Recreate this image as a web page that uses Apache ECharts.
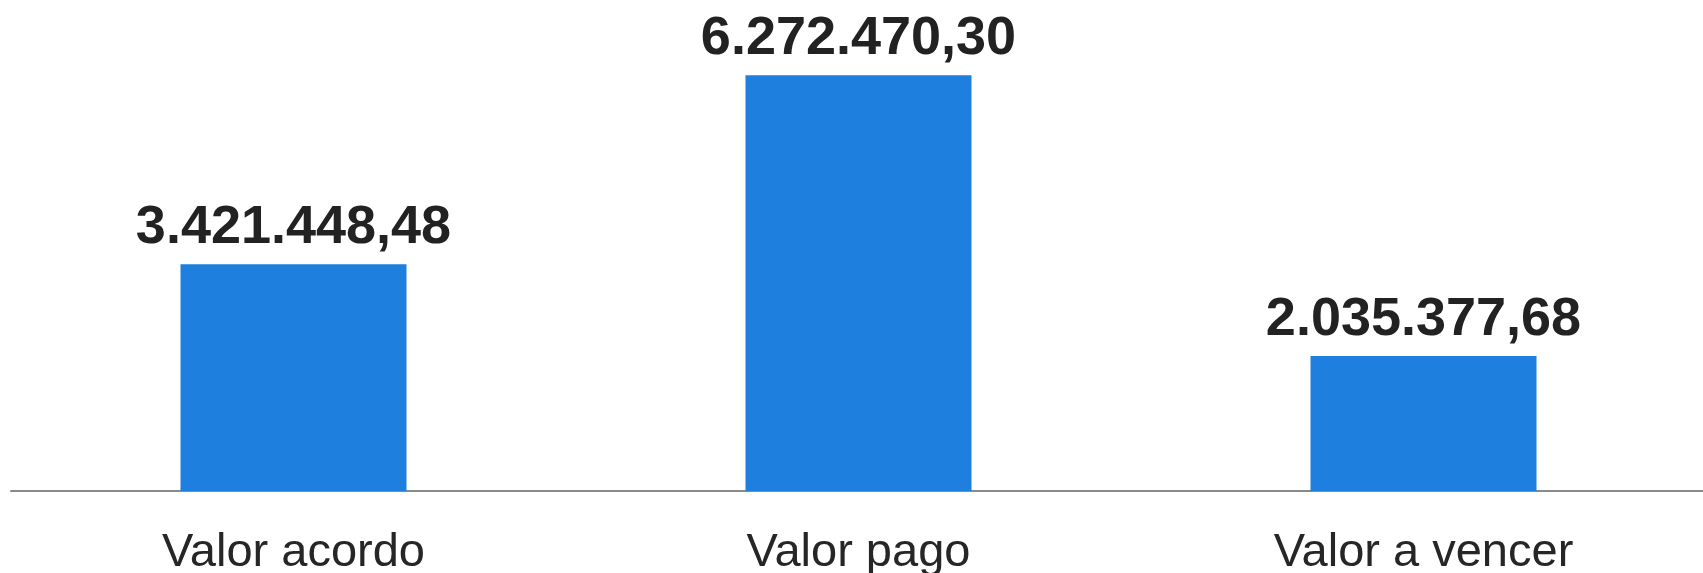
<!DOCTYPE html>
<html>
<head>
<meta charset="utf-8">
<style>
  html, body { margin: 0; padding: 0; background: #fff; }
  #main { width: 1703px; height: 573px; }
</style>
<script src="https://cdn.jsdelivr.net/npm/echarts@6/dist/echarts.min.js"></script>
</head>
<body>
<div id="main"></div>
<script>
// dados do gráfico
var categories = ["Valor acordo", "Valor pago", "Valor a vencer"];
var values = [3421448.48, 6272470.30, 2035377.68];

// formato brasileiro: 1.234.567,89
function formatBR(v) {
  var parts = v.toFixed(2).split(".");
  var inteiro = parts[0].replace(/\B(?=(\d{3})+(?!\d))/g, ".");
  return inteiro + "," + parts[1];
}

var myChart = echarts.init(document.getElementById("main"));
myChart.setOption({
  animation: false,
  grid: {
    left: 11,
    right: -3,
    top: 27,
    bottom: 82,
    outerBoundsMode: "none"
  },
  xAxis: {
    type: "category",
    data: categories,
    axisLine: {
      lineStyle: { color: "#8a8a8a", width: 2 }
    },
    axisTick: { show: false },
    axisLabel: {
      color: "#262626",
      fontFamily: "Liberation Sans, Arial, sans-serif",
      fontSize: 47,
      margin: 39
    }
  },
  yAxis: {
    type: "value",
    min: 0,
    max: 7000000,
    show: false,
    splitLine: { show: false }
  },
  series: [
    {
      type: "bar",
      data: values,
      barWidth: "40%",
      itemStyle: { color: "#1e7fdf" },
      label: {
        show: true,
        position: "top",
        distance: 9,
        color: "#222",
        fontFamily: "Liberation Sans, Arial, sans-serif",
        fontWeight: "bold",
        fontSize: 54,
        formatter: function(p) {
          return formatBR(p.value);
        }
      }
    }
  ]
});
</script>
</body>
</html>
